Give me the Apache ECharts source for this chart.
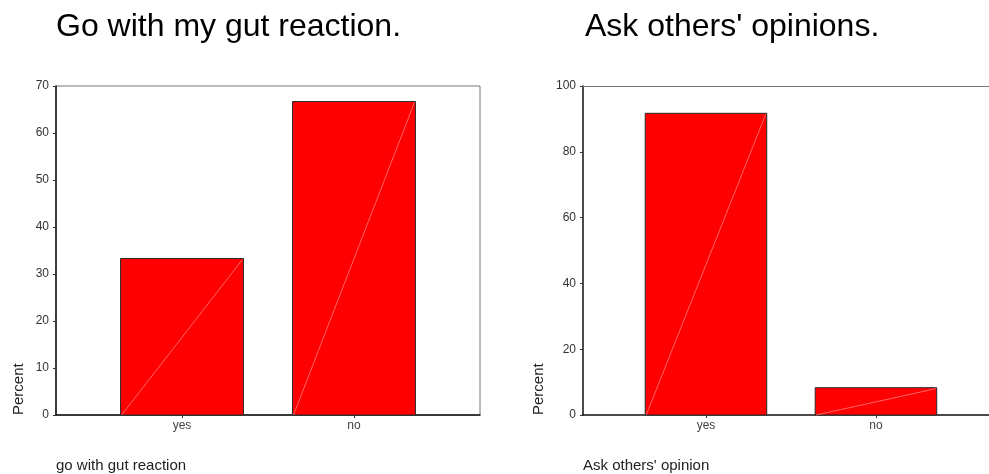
<!DOCTYPE html>
<html>
<head>
<meta charset="utf-8">
<script src="https://cdn.jsdelivr.net/npm/echarts@6/dist/echarts.min.js"></script>
<style>
html,body{margin:0;padding:0;background:#fff;}
#c{width:989px;height:474px;}
</style>
</head>
<body>
<div id="c"></div>
<script>
// ---- data ----
const categories = ['yes', 'no'];
const gutValues = [33.3, 66.7];
const othersValues = [91.7, 8.3];
const titles = ['Go with my gut reaction.', "Ask others' opinions."];
const axisTitles = ['go with gut reaction', "Ask others' opinion"];
const yTitle = 'Percent';

const FONT = '"Liberation Sans", Arial, sans-serif';

function toPoints(vals) {
  return categories.map((c, i) => [i + 1, vals[i]]);
}

function renderBar(params, api) {
  const x = api.value(0), y = api.value(1);
  const p0 = api.coord([x, 0]);
  const p1 = api.coord([x, y]);
  const w = api.size([0.715, 0])[0];
  const l = p0[0] - w / 2, r = p0[0] + w / 2;
  return {
    type: 'group',
    children: [
      { type: 'rect', shape: { x: l, y: p1[1], width: w, height: p0[1] - p1[1] },
        style: { fill: '#ff0000', stroke: '#2a2a2a', lineWidth: 1 } },
      { type: 'line', shape: { x1: l + 1, y1: p0[1], x2: r - 1, y2: p1[1] + 1 },
        style: { stroke: '#ff8f8f', lineWidth: 0.7 } }
    ]
  };
}

function xAxisCfg(idx, min, max) {
  return {
    type: 'value', gridIndex: idx, min: min, max: max,
    splitLine: { show: false },
    axisLine: { show: true, onZero: false, lineStyle: { color: '#111', width: 1.5 } },
    axisTick: { show: true, customValues: [1, 2], length: 3, lineStyle: { color: '#333' } },
    axisLabel: { show: true, customValues: [1, 2], margin: 5,
      formatter: v => categories[Math.round(v) - 1] || '',
      fontFamily: FONT, fontSize: 12, color: '#444' }
  };
}

function yAxisCfg(idx, max, interval) {
  return {
    type: 'value', gridIndex: idx, min: 0, max: max, interval: interval,
    splitLine: { show: false },
    axisLine: { show: true, lineStyle: { color: '#111', width: 1.5 } },
    axisTick: { show: true, length: 3, lineStyle: { color: '#333' } },
    axisLabel: { margin: 7, fontFamily: FONT, fontSize: 12, color: '#333' }
  };
}

const option = {
  backgroundColor: '#ffffff',
  animation: false,
  title: [
    { text: titles[0], left: 51, top: 6, textStyle: { fontFamily: FONT, fontSize: 32, fontWeight: 'normal', color: '#000' } },
    { text: titles[1], left: 580, top: 6, textStyle: { fontFamily: FONT, fontSize: 32, fontWeight: 'normal', color: '#000' } },
    { text: axisTitles[0], left: 56, top: 458, padding: 0, textStyle: { fontFamily: FONT, fontSize: 15, fontWeight: 'normal', color: '#222' } },
    { text: axisTitles[1], left: 583, top: 458, padding: 0, textStyle: { fontFamily: FONT, fontSize: 15, fontWeight: 'normal', color: '#222' } }
  ],
  graphic: [
    { type: 'text', x: 26, y: 415, rotation: Math.PI / 2,
      style: { text: yTitle, fontFamily: FONT, fontSize: 15, fill: '#222', align: 'left', verticalAlign: 'bottom' } },
    { type: 'text', x: 546, y: 415, rotation: Math.PI / 2,
      style: { text: yTitle, fontFamily: FONT, fontSize: 15, fill: '#222', align: 'left', verticalAlign: 'bottom' } }
  ],
  grid: [
    { left: 56, top: 86, width: 424, height: 329, show: true, borderColor: '#777', borderWidth: 1 },
    { left: 583, top: 86, width: 406, height: 329, show: false }
  ],
  xAxis: [
    xAxisCfg(0, 0.267, 2.733),
    xAxisCfg(1, 0.2765, 2.665),
    { type: 'value', gridIndex: 1, position: 'top', min: 0.2765, max: 2.665,
      splitLine: { show: false }, axisTick: { show: false }, axisLabel: { show: false },
      axisLine: { show: true, onZero: false, lineStyle: { color: '#777', width: 1 } } }
  ],
  yAxis: [yAxisCfg(0, 70, 10), yAxisCfg(1, 100, 20)],
  series: [
    { type: 'custom', xAxisIndex: 0, yAxisIndex: 0, renderItem: renderBar, data: toPoints(gutValues), encode: { x: 0, y: 1 } },
    { type: 'custom', xAxisIndex: 1, yAxisIndex: 1, renderItem: renderBar, data: toPoints(othersValues), encode: { x: 0, y: 1 } }
  ]
};

const chart = echarts.init(document.getElementById('c'), null, { renderer: 'canvas' });
chart.setOption(option);
</script>
</body>
</html>
